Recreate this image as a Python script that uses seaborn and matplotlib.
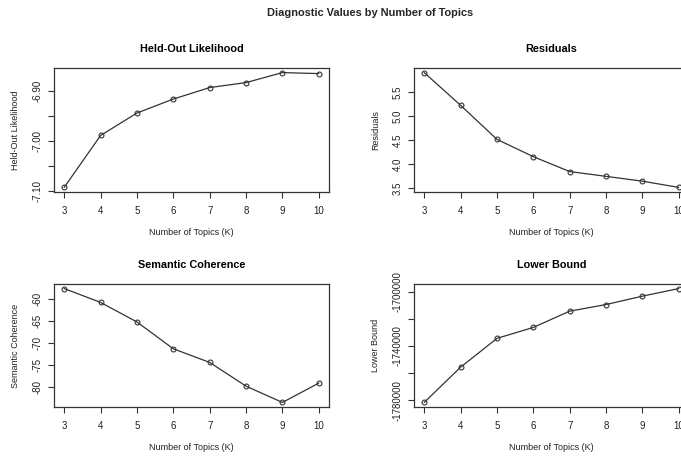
import matplotlib
matplotlib.use("Agg")
import numpy as np
import pandas as pd
import matplotlib.pyplot as plt
import seaborn as sns

# values (stm searchK diagnostics)
num_topics = [3, 4, 5, 6, 7, 8, 9, 10]
heldout = [-7.093, -6.989, -6.944, -6.916, -6.893, -6.883, -6.863, -6.865]
residuals = [5.91, 5.23, 4.52, 4.16, 3.85, 3.75, 3.65, 3.52]
semcoh = [-57.6, -60.75, -65.2, -71.3, -74.4, -79.8, -83.5, -79.1]
lbound = [-1781700, -1755700, -1734400, -1726300, -1714300, -1709400, -1703200, -1697600]

sns.set_style("ticks")
plt.rcParams["font.family"] = ["Liberation Sans", "DejaVu Sans"]

fig = plt.figure(figsize=(6.81, 4.57), dpi=100)

# axes boxes in pixels: left, top, right, bottom (right column runs past the edge)
W, H = 681, 457
boxes = [(54, 68, 329, 192), (414, 68, 689, 192),
         (54, 284, 329, 407), (414, 284, 689, 407)]

panels = [
    ("Held-Out Likelihood", heldout, [-7.10, -7.05, -7.00, -6.95, -6.90],
     {-7.10: "-7.10", -7.00: "-7.00", -6.90: "-6.90"}),
    ("Residuals", residuals, [3.5, 4.0, 4.5, 5.0, 5.5],
     {3.5: "3.5", 4.0: "4.0", 4.5: "4.5", 5.0: "5.0", 5.5: "5.5"}),
    ("Semantic Coherence", semcoh, [-80, -75, -70, -65, -60],
     {-80: "-80", -75: "-75", -70: "-70", -65: "-65", -60: "-60"}),
    ("Lower Bound", lbound, [-1780000, -1760000, -1740000, -1720000, -1700000],
     {-1780000: "-1780000", -1740000: "-1740000", -1700000: "-1700000"}),
]

text_col = "#222222"

for (title, values, yticks, ylabels), (l, t, r, b) in zip(panels, boxes):
    ax = fig.add_axes([l / W, 1 - b / H, (r - l) / W, (b - t) / H])
    df = pd.DataFrame({"K": num_topics, "value": values})
    sns.lineplot(data=df, x="K", y="value", ax=ax, color="#333333",
                 linewidth=0.9, marker="o", markersize=3.5,
                 markerfacecolor="none", markeredgecolor="#333333",
                 markeredgewidth=0.8)
    ax.margins(x=0.04, y=0.04)
    ax.set_xticks(num_topics)
    ax.set_xticklabels([str(k) for k in num_topics])
    ax.set_yticks(yticks)
    ax.set_yticklabels([ylabels.get(v, "") for v in yticks],
                       rotation=90, va="center")
    ax.tick_params(axis="both", direction="out", length=4, width=0.8,
                   color="#333333", labelsize=7, labelcolor=text_col)
    ax.tick_params(axis="x", pad=6)
    ax.tick_params(axis="y", pad=4)
    for spine in ax.spines.values():
        spine.set_visible(True)
        spine.set_linewidth(0.9)
        spine.set_color("#333333")
    ax.set_title(title, fontsize=7.8, fontweight="bold", pad=11.5, color="black")
    ax.set_xlabel("Number of Topics (K)", fontsize=6.5, color=text_col, labelpad=9)
    ax.set_ylabel(title, fontsize=6.5, color=text_col, labelpad=9)

fig.text(370 / W, 1 - 13 / H, "Diagnostic Values by Number of Topics",
         ha="center", va="center", fontsize=7.9, fontweight="bold")

fig.savefig("out.png", dpi=100)
